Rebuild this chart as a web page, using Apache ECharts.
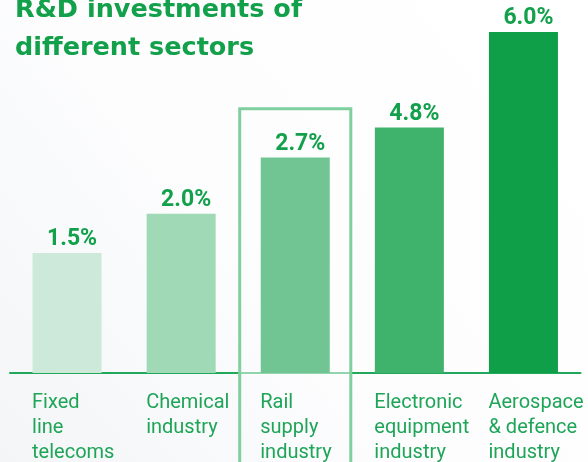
<!DOCTYPE html>
<html>
<head>
<meta charset="utf-8">
<script src="https://cdn.jsdelivr.net/npm/echarts@6/dist/echarts.min.js"></script>
<style>
html,body{margin:0;padding:0;background:#fff;}
#chart{width:588px;height:462px;}
</style>
</head>
<body>
<div id="chart"></div>
<script>
// Data
const titleText = 'R&D investments of\ndifferent sectors';
const categories = ['Fixed\nline\ntelecoms', 'Chemical\nindustry', 'Rail\nsupply\nindustry', 'Electronic\nequipment\nindustry', 'Aerospace\n& defence\nindustry'];
// Stated R&D investment share (%) shown on each bar
const investmentShare = [1.5, 2.0, 2.7, 4.8, 6.0];
// Bar heights as drawn in the (non-proportional) infographic, read on the 6.0% scale
const drawnLevel = [2.11, 2.80, 3.79, 4.32, 6.0];
const highlighted = 'Rail\nsupply\nindustry';

const barColors = ['#cde9d9', '#a0d9b5', '#70c592', '#3fb26c', '#0f9f48'];
const green = '#12a04b';
const boxTop = 4.65;

const chart = echarts.init(document.getElementById('chart'), null, {renderer: 'canvas'});
const hiIdx = categories.indexOf(highlighted);

chart.setOption({
  animation: false,
  backgroundColor: {
    type: 'linear', x: 1, y: 0, x2: 0, y2: 1,
    colorStops: [
      {offset: 0, color: '#ffffff'},
      {offset: 0.55, color: '#fdfdfe'},
      {offset: 1, color: '#f3f5f7'}
    ]
  },
  title: {
    text: titleText,
    left: 10,
    top: -14,
    textStyle: {
      fontFamily: 'DejaVu Sans',
      fontWeight: 'bold',
      fontSize: 25.5,
      lineHeight: 38,
      color: green
    }
  },
  grid: {left: 10, right: 7.5, top: 3.6, bottom: 89, containLabel: false, outerBoundsMode: 'none'},
  xAxis: {
    type: 'category',
    data: categories,
    axisLine: {show: true, lineStyle: {color: '#22a85a', width: 2}},
    axisTick: {show: false},
    axisLabel: {
      interval: 0,
      align: 'left',
      verticalAlign: 'top',
      margin: 17,
      padding: [0, 0, 0, -35],
      fontFamily: 'Roboto',
      fontSize: 20,
      lineHeight: 25,
      color: '#1fa558'
    }
  },
  yAxis: {
    type: 'value',
    min: 0,
    max: 6.5,
    show: false,
    splitLine: {show: false}
  },
  series: [
    {
      type: 'custom',
      z: 1,
      clip: false,
      silent: true,
      data: [[hiIdx, boxTop]],
      encode: {x: 0, y: 1},
      renderItem: function (params, api) {
        const c = api.coord([api.value(0), api.value(1)]);
        const base = api.coord([api.value(0), 0]);
        const w = api.size([1, 0])[0];
        return {
          type: 'group',
          children: [
            {
              type: 'rect',
              shape: {x: c[0] - w / 2 + 1.5, y: base[1] - 2, width: w - 3, height: 4},
              style: {fill: 'rgba(255,255,255,0.5)'}
            },
            {
              type: 'rect',
              shape: {x: c[0] - w / 2 + 1.5, y: c[1], width: w - 3, height: 600},
              style: {fill: 'none', stroke: '#80cf9f', lineWidth: 3}
            }
          ]
        };
      }
    },
    {
      type: 'bar',
      z: 2,
      barWidth: 69,
      data: drawnLevel.map((v, i) => ({value: v, itemStyle: {color: barColors[i]}})),
      label: {
        show: true,
        position: 'top',
        distance: 2,
        offset: [5, 0],
        formatter: p => investmentShare[p.dataIndex].toFixed(1) + '%',
        fontFamily: 'Roboto',
        fontWeight: 'bold',
        fontSize: 23,
        color: green
      }
    }
  ]
});
</script>
</body>
</html>
